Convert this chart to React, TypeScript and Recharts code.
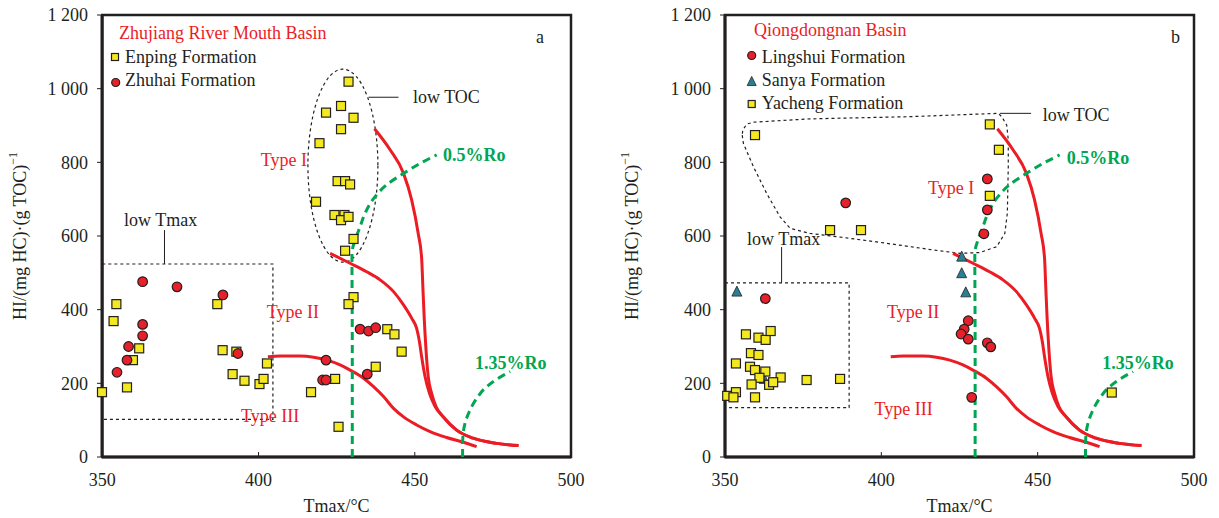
import React from 'react';
import { ScatterChart, Scatter, XAxis, YAxis, ReferenceArea, ReferenceLine } from 'recharts';

type Pt = [number, number];

const xTicks = [350, 400, 450, 500];
const yTicks = [0, 200, 400, 600, 800, 1000, 1200];

// Panel a: Zhujiang River Mouth Basin
const enpingA: Pt[] = [
  [428.8, 1019], [426.4, 953], [421.6, 935], [430.4, 921], [426.4, 890], [419.5, 852],
  [425.3, 749], [427.7, 749], [429.3, 740], [418.4, 693], [424.3, 657], [427.5, 657],
  [426.4, 643], [428.8, 652], [430.4, 592], [427.7, 560], [430.4, 434], [428.8, 415],
  [441.2, 347], [443.5, 333], [445.8, 286], [437.5, 245], [424.5, 212], [416.8, 176],
  [425.6, 82], [354.5, 415], [353.6, 369], [361.8, 295], [359.8, 263], [357.9, 189],
  [349.9, 176], [386.8, 415], [388.5, 290], [392.9, 286], [391.7, 225], [395.5, 207],
  [400.3, 198], [401.6, 212], [402.7, 254],
];
const zhuhaiA: Pt[] = [
  [362.9, 476], [373.9, 462], [388.6, 440], [362.9, 360], [362.9, 329], [358.4, 300],
  [357.9, 263], [354.7, 230], [393.4, 281], [432.5, 347], [435.2, 342], [437.5, 351],
  [421.6, 263], [420.5, 209], [421.6, 209], [434.8, 225],
];

// Panel b: Qiongdongnan Basin
const sanyaB: Pt[] = [
  [353.8, 449], [425.7, 544], [425.7, 499], [427, 447], [362.5, 212],
];
const yachengB: Pt[] = [
  [359.6, 874], [383.6, 616], [393.5, 616], [434.7, 903], [437.6, 834], [434.7, 709],
  [473.7, 175], [356.7, 333], [360.7, 324], [363.0, 318], [364.6, 342], [358.3, 282],
  [360.7, 277], [353.5, 254], [358, 245], [359.6, 236], [362.9, 232], [361, 215],
  [367.8, 216], [358.5, 197], [364.1, 196], [365.4, 203], [376.1, 209], [386.8, 212],
  [350.7, 166], [353.5, 176], [352.7, 162], [359.6, 162],
];
const lingshuiB: Pt[] = [
  [388.6, 690], [433.9, 755], [433.9, 671], [432.8, 606], [362.9, 430], [427.8, 370],
  [426.5, 347], [425.5, 334], [427.8, 320], [433.9, 310], [435, 299], [428.9, 162],
];

// Kerogen type boundary curves and Ro lines (shared by both panels)
const typeICurve: Pt[] = [
  [437.1, 891], [442.1, 834], [446.4, 770], [449, 698], [451.1, 607], [452.2, 540],
  [452.6, 460], [453.0, 381], [453.6, 291], [454.3, 218], [455.4, 173], [456.8, 137],
  [459.1, 109], [463.4, 73], [468.7, 51], [476.2, 37], [483.2, 31],
];
const typeIICurve: Pt[] = [
  [422.9, 553], [429.3, 526], [434.6, 503], [438.9, 481], [443.2, 449], [446.4, 413],
  [449.0, 377], [450.6, 349], [451.5, 313], [452.2, 272], [453.3, 218], [454.7, 173],
  [456.5, 137], [459.1, 109], [463.4, 73], [468.7, 51], [476.2, 37], [483.2, 31],
];
const typeIIICurve: Pt[] = [
  [403.0, 272], [406.9, 274], [413.3, 274], [417.6, 271], [421.9, 263], [426.1, 250],
  [429.3, 236], [433.6, 214], [436.8, 191], [440.0, 164], [443.2, 132], [446.4, 109],
  [450.6, 87], [454.9, 69], [460.2, 53], [465.5, 40], [469.8, 28],
];
const ro05Curve: Pt[] = [
  [430, 0], [430, 300], [429.9, 553], [430.9, 589], [432.5, 625], [434.1, 662],
  [437.3, 707], [441.0, 739], [446.4, 770], [451.7, 797], [457.0, 820],
];
const ro135Curve: Pt[] = [
  [465.3, 0], [465.3, 30], [465.4, 55], [466.1, 92], [467.7, 128], [469.8, 159],
  [472.5, 187], [476.2, 211], [480.5, 232],
];

// low TOC outlines
const lowTocEllipseA = { x1: 415.8, x2: 438.2, y1: 529, y2: 1053 };
const lowTocOutlineB: Pt[] = [
  [355.5, 874], [355.9, 851], [359.1, 788], [363.3, 716], [367.6, 652], [370.8, 621],
  [377.2, 607], [387.8, 596], [398.5, 584], [409.3, 571], [416.6, 562], [425.1, 553],
  [431.5, 555], [436.9, 571], [439.5, 607], [440.3, 662], [440.6, 788], [440.6, 861],
  [440.1, 901], [438.5, 924], [437.4, 933], [409.3, 924], [377.2, 918], [359.1, 909],
  [357.0, 904], [355.7, 888], [355.5, 874],
];
// low Tmax boxes
const lowTmaxBoxA = { x1: 350, x2: 404.6, y1: 102, y2: 524 };
const lowTmaxBoxB = { x1: 350, x2: 389.7, y1: 134, y2: 473 };
// leader lines
const leaderTocA: Pt[] = [[435.2, 976.7], [444.8, 976.7]];
const leaderTmaxA: Pt[] = [[369.9, 524], [369.9, 616]];
const leaderTocB: Pt[] = [[437.9, 933], [447.9, 933]];
const leaderTmaxB: Pt[] = [[368.1, 473], [368.1, 570]];

const SERIF = '"Liberation Serif", "Times New Roman", serif';
const INK = '#231f20';
const RED = '#ec1c24';
const GREEN = '#00a651';
const YELLOW = '#f3e91e';
const CIRCLE_RED = '#e8202a';
const TEAL = '#2a7f95';

const toXY = (pts: Pt[]) => pts.map(([x, y]) => ({ x, y }));

const Square = ({ cx, cy, side = 9 }: { cx: number; cy: number; side?: number }) => (
  <rect x={cx - side / 2} y={cy - side / 2} width={side} height={side}
    fill={YELLOW} stroke={INK} strokeWidth={1.2} />
);
const Dot = ({ cx, cy, rad = 4.8 }: { cx: number; cy: number; rad?: number }) => (
  <circle cx={cx} cy={cy} r={rad} fill={CIRCLE_RED} stroke={INK} strokeWidth={1.2} />
);
const Tri = ({ cx, cy, side = 10 }: { cx: number; cy: number; side?: number }) => {
  const h = side * 0.9;
  return (
    <polygon
      points={`${cx},${cy - h / 2 - 1} ${cx - side / 2},${cy + h / 2} ${cx + side / 2},${cy + h / 2}`}
      fill={TEAL} stroke={INK} strokeWidth={0.8} />
  );
};
const SquareShape = (p: any) => <Square cx={p.cx} cy={p.cy} />;
const CircleShape = (p: any) => <Dot cx={p.cx} cy={p.cy} />;
const TriangleShape = (p: any) => <Tri cx={p.cx} cy={p.cy} />;
const NoShape = () => <g />;

const yFmt = (v: number) =>
  v >= 1000 ? `${Math.floor(v / 1000)} ${String(v % 1000).padStart(3, '0')}` : `${v}`;

const tickStyle = { fontSize: 18, fontFamily: SERIF, fill: INK };

function curve(key: string, pts: Pt[], stroke: string, joint: any, dash?: string) {
  return (
    <Scatter key={key} data={toXY(pts)} shape={NoShape} isAnimationActive={false}
      line={{ stroke, strokeWidth: 3, strokeDasharray: dash, fill: 'none' }}
      lineJointType={joint} legendType="none" />
  );
}

function leader(key: string, pts: Pt[]) {
  return (
    <ReferenceLine key={key} segment={[{ x: pts[0][0], y: pts[0][1] }, { x: pts[1][0], y: pts[1][1] }]}
      stroke={INK} strokeWidth={1} ifOverflow="visible" />
  );
}

function Panel(props: { width: number; margin: any; extra: React.ReactNode[]; markers: React.ReactNode[] }) {
  return (
    <ScatterChart width={props.width} height={518} margin={props.margin}>
      <XAxis type="number" dataKey="x" domain={[350, 500]} ticks={xTicks}
        tick={tickStyle} tickSize={-5} tickMargin={21} height={30}
        axisLine={{ stroke: INK, strokeWidth: 3 }} tickLine={{ stroke: INK, strokeWidth: 1 }} />
      <YAxis type="number" dataKey="y" domain={[0, 1200]} ticks={yTicks}
        tick={tickStyle} tickSize={5} tickMargin={9} width={60} tickFormatter={yFmt}
        axisLine={{ stroke: INK, strokeWidth: 3 }} tickLine={{ stroke: INK, strokeWidth: 1 }} />
      <ReferenceArea x1={350} x2={500} y1={0} y2={1200} fill="none" fillOpacity={0}
        stroke={INK} strokeWidth={2.5} ifOverflow="visible" />
      {props.extra}
      {curve('t1', typeICurve, RED, 'monotoneX')}
      {curve('t2', typeIICurve, RED, 'monotoneX')}
      {curve('t3', typeIIICurve, RED, 'monotoneX')}
      {curve('r05', ro05Curve, GREEN, 'monotoneY', '8 5')}
      {curve('r135', ro135Curve, GREEN, 'monotoneY', '8 5')}
      {props.markers}
    </ScatterChart>
  );
}

const dottedBox = (key: string, b: { x1: number; x2: number; y1: number; y2: number }) => (
  <ReferenceArea key={key} x1={b.x1} x2={b.x2} y1={b.y1} y2={b.y2} fill="none" fillOpacity={0}
    stroke={INK} strokeWidth={1.2} strokeDasharray="3 3" ifOverflow="visible" />
);

const EllipseShape = (p: any) => (
  <ellipse cx={p.x + p.width / 2} cy={p.y + p.height / 2} rx={p.width / 2} ry={p.height / 2}
    fill="none" stroke={INK} strokeWidth={1.2} strokeDasharray="3 3" />
);

const T = (p: { x: number; y: number; c?: string; bold?: boolean; anchor?: string; children: React.ReactNode }) => (
  <text x={p.x} y={p.y} fill={p.c ?? INK} fontSize={18} fontFamily={SERIF}
    fontWeight={p.bold ? 'bold' : 'normal'} textAnchor={(p.anchor as any) ?? 'start'}>{p.children}</text>
);

const YLabel = ({ cx, cy }: { cx: number; cy: number }) => (
  <text x={cx} y={cy} transform={`rotate(-90 ${cx} ${cy})`} textAnchor="middle" dominantBaseline="central"
    fontSize={18} fontFamily={SERIF} fill={INK}>
    HI/(mg HC)·(g TOC)<tspan dy={-7} fontSize={12}>−1</tspan>
  </text>
);

export default function App() {
  const extraA = [
    <ReferenceArea key="ell" x1={lowTocEllipseA.x1} x2={lowTocEllipseA.x2} y1={lowTocEllipseA.y1}
      y2={lowTocEllipseA.y2} shape={EllipseShape} ifOverflow="visible" />,
    dottedBox('boxA', lowTmaxBoxA),
    leader('lta', leaderTocA),
    leader('lma', leaderTmaxA),
  ];
  const markersA = [
    <Scatter key="en" data={toXY(enpingA)} shape={SquareShape} isAnimationActive={false} />,
    <Scatter key="zh" data={toXY(zhuhaiA)} shape={CircleShape} isAnimationActive={false} />,
  ];
  const extraB = [
    <Scatter key="outline" data={toXY(lowTocOutlineB)} shape={NoShape} isAnimationActive={false}
      line={{ stroke: INK, strokeWidth: 1.2, strokeDasharray: '3 3', fill: 'none' }} lineJointType="linear" />,
    dottedBox('boxB', lowTmaxBoxB),
    leader('ltb', leaderTocB),
    leader('lmb', leaderTmaxB),
  ];
  const markersB = [
    <Scatter key="sy" data={toXY(sanyaB)} shape={TriangleShape} isAnimationActive={false} />,
    <Scatter key="yc" data={toXY(yachengB)} shape={SquareShape} isAnimationActive={false} />,
    <Scatter key="ls" data={toXY(lingshuiB)} shape={CircleShape} isAnimationActive={false} />,
  ];

  return (
    <div style={{ position: 'absolute', left: 0, top: 0, width: 1219, height: 518, background: '#fff' }}>
      <div style={{ position: 'absolute', left: 0, top: 0 }}>
        <Panel width={610} margin={{ top: 15, right: 39, bottom: 31, left: 42 }} extra={extraA} markers={markersA} />
      </div>
      <div style={{ position: 'absolute', left: 610, top: 0 }}>
        <Panel width={609} margin={{ top: 15, right: 25, bottom: 31, left: 55 }} extra={extraB} markers={markersB} />
      </div>
      <svg width={1219} height={518} style={{ position: 'absolute', left: 0, top: 0, pointerEvents: 'none' }}>
        {/* Panel a */}
        <T x={119} y={39} c={RED}>Zhujiang River Mouth Basin</T>
        <Square cx={115} cy={57} side={7} />
        <T x={125} y={63}>Enping Formation</T>
        <Dot cx={115.7} cy={82.5} rad={4} />
        <T x={125} y={86}>Zhuhai Formation</T>
        <T x={536} y={42.5}>a</T>
        <T x={413} y={103}>low TOC</T>
        <T x={124} y={226}>low Tmax</T>
        <T x={307} y={166} c={RED} anchor="end">Type I</T>
        <T x={319} y={317.5} c={RED} anchor="end">Type II</T>
        <T x={241} y={421.5} c={RED}>Type III</T>
        <T x={443} y={161} c={GREEN} bold>0.5%Ro</T>
        <T x={475} y={369} c={GREEN} bold>1.35%Ro</T>
        <YLabel cx={20} cy={236} />
        <T x={336.5} y={512} anchor="middle">Tmax/°C</T>
        {/* Panel b */}
        <T x={754} y={36} c={RED}>Qiongdongnan Basin</T>
        <Dot cx={751.7} cy={55.5} rad={4} />
        <T x={761.7} y={62.5}>Lingshui Formation</T>
        <Tri cx={751.7} cy={81.5} side={9} />
        <T x={761.7} y={86}>Sanya Formation</T>
        <Square cx={751.7} cy={104} side={7} />
        <T x={761.7} y={109}>Yacheng Formation</T>
        <T x={1171} y={42.5}>b</T>
        <T x={1042.7} y={121}>low TOC</T>
        <T x={1066.7} y={164} c={GREEN} bold>0.5%Ro</T>
        <T x={928} y={194} c={RED}>Type I</T>
        <T x={747} y={245}>low Tmax</T>
        <T x={939.3} y={317.5} c={RED} anchor="end">Type II</T>
        <T x={932.7} y={415} c={RED} anchor="end">Type III</T>
        <T x={1102.3} y={369} c={GREEN} bold>1.35%Ro</T>
        <YLabel cx={632} cy={236} />
        <T x={959.5} y={512} anchor="middle">Tmax/°C</T>
      </svg>
    </div>
  );
}
